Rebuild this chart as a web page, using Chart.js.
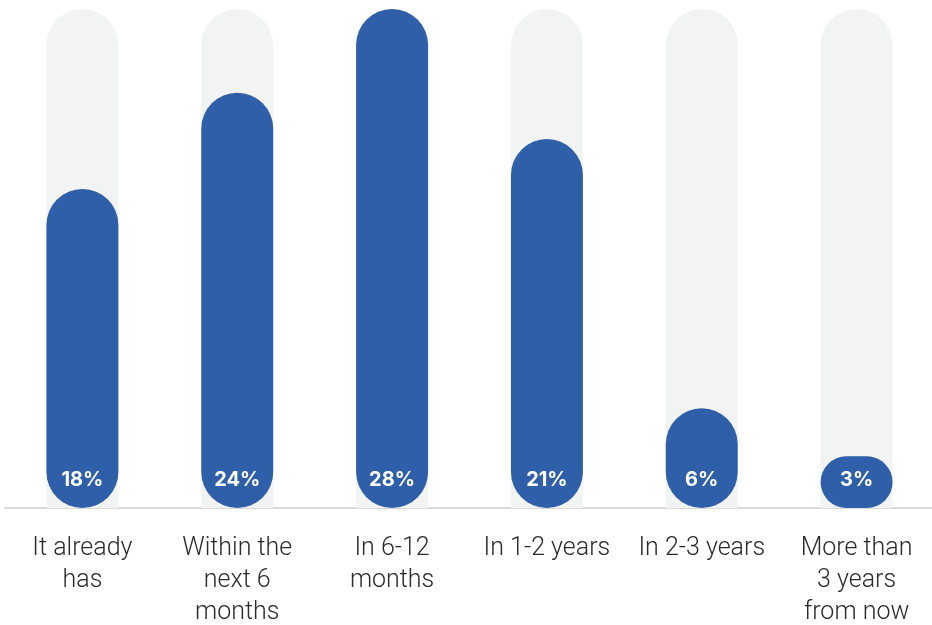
<!DOCTYPE html>
<html>
<head>
<meta charset="utf-8">
<script src="https://cdn.jsdelivr.net/npm/chart.js@4"></script>
<style>
  html, body { margin: 0; padding: 0; background: #ffffff; overflow: hidden; }
  #wrap { width: 934px; height: 625px; }
</style>
</head>
<body>
<div id="wrap"><canvas id="TimingChart"></canvas></div>
<script>
// categories (multi-line tick labels)
const Categories = [
    ["It already", "has"],
    ["Within the", "next 6", "months"],
    ["In 6-12", "months"],
    "In 1-2 years",
    "In 2-3 years",
    ["More than", "3 years", "from now"]
];
// share of respondents
const ShareValues = [17.9, 23.3, 28, 20.7, 5.6, 2.9];
// printed value labels
const ShareLabels = ["18%", "24%", "28%", "21%", "6%", "3%"];
// grey track behind each bar
const TrackValues = [28, 28, 28, 28, 28, 28];

const BarBlue = "#2e5fa8";
const TrackGrey = "#f2f3f3";

// writes the value label near the foot of each blue bar
const ValueLabelPlugin = {
    id: "valueLabels",
    afterDatasetsDraw(chart) {
        const ctx = chart.ctx;
        const meta = chart.getDatasetMeta(0);
        ctx.save();
        ctx.fillStyle = "#ffffff";
        ctx.font = "700 20px Inter, 'Noto Sans', sans-serif";
        ctx.textAlign = "center";
        ctx.textBaseline = "middle";
        meta.data.forEach(function (bar, i) {
            ctx.fillText(ShareLabels[i], bar.x, chart.chartArea.bottom - 28);
        });
        ctx.restore();
    }
};

const ChartElement = document.getElementById("TimingChart").getContext("2d");
const TimingChart = new Chart(ChartElement, {
    type: "bar",
    data: {
        labels: Categories,
        datasets: [{
            label: "Share",
            data: ShareValues,
            backgroundColor: BarBlue,
            borderRadius: 36,
            borderSkipped: false,
            barPercentage: 0.465,
            categoryPercentage: 1
        }, {
            label: "Track",
            data: TrackValues,
            backgroundColor: TrackGrey,
            borderRadius: { topLeft: 36, topRight: 36, bottomLeft: 0, bottomRight: 0 },
            borderSkipped: false,
            barPercentage: 0.465,
            categoryPercentage: 1
        }]
    },
    options: {
        responsive: true,
        maintainAspectRatio: false,
        animation: false,
        layout: { padding: { top: 9, left: 5, right: 0, bottom: -29 } },
        plugins: {
            legend: { display: false },
            tooltip: { enabled: false }
        },
        scales: {
            x: {
                stacked: false,
                grid: { display: false, drawTicks: false },
                border: { display: true, color: "#dadada", width: 2 },
                ticks: {
                    color: "#2b2b2b",
                    padding: 25,
                    maxRotation: 0,
                    autoSkip: false,
                    font: { family: "Roboto, 'Liberation Sans', sans-serif", size: 25, weight: 300, lineHeight: 1.28 }
                },
                // labels fit inside each category slot, so no side padding is needed
                afterFit: function (scale) {
                    scale.paddingLeft = 0;
                    scale.paddingRight = 0;
                }
            },
            y: {
                display: false,
                min: 0,
                max: 28
            }
        },
        datasets: { bar: { grouped: false } }
    },
    plugins: [ValueLabelPlugin]
});
</script>
</body>
</html>
